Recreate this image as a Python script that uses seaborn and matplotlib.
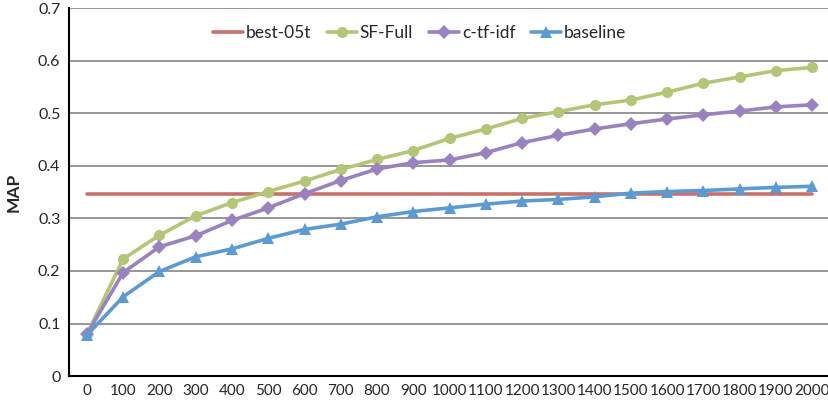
import matplotlib
matplotlib.use("Agg")
import matplotlib.pyplot as plt
import seaborn as sns
import pandas as pd

# values
steps = [0, 100, 200, 300, 400, 500, 600, 700, 800, 900, 1000,
         1100, 1200, 1300, 1400, 1500, 1600, 1700, 1800, 1900, 2000]
best_05t = [0.347] * len(steps)
sf_full = [0.080, 0.223, 0.268, 0.305, 0.330, 0.351, 0.371, 0.393, 0.412, 0.429, 0.452,
           0.470, 0.490, 0.503, 0.516, 0.525, 0.540, 0.557, 0.569, 0.581, 0.587]
c_tf_idf = [0.080, 0.197, 0.246, 0.267, 0.296, 0.320, 0.347, 0.372, 0.394, 0.406, 0.411,
            0.425, 0.444, 0.458, 0.470, 0.480, 0.489, 0.497, 0.504, 0.512, 0.516]
baseline = [0.078, 0.151, 0.199, 0.227, 0.242, 0.262, 0.279, 0.289, 0.303, 0.313, 0.320,
            0.327, 0.333, 0.336, 0.341, 0.348, 0.351, 0.353, 0.356, 0.359, 0.361]

series = [
    ("best-05t", best_05t, "#C9706A", ""),
    ("SF-Full", sf_full, "#B3C676", "o"),
    ("c-tf-idf", c_tf_idf, "#9A82C0", "D"),
    ("baseline", baseline, "#5A9BD3", "^"),
]

sns.set_style("white")
plt.rcParams['font.family'] = ['Lato', 'DejaVu Sans']

fig = plt.figure(figsize=(8.29, 4.01), dpi=100)
ax = fig.add_axes([0.083, 0.062, 0.916, 0.918])

for name, vals, color, marker in series:
    df = pd.DataFrame({"step": steps, "MAP": vals})
    sns.lineplot(data=df, x="step", y="MAP", ax=ax, color=color, linewidth=2.6,
                 marker=marker if marker else None,
                 markersize=8 if marker != "D" else 7,
                 markeredgewidth=0, label=name)

ax.set_xlim(-50, 2044)
ax.set_ylim(0, 0.7)
ax.set_xticks(steps)
ax.set_xticklabels([str(s) for s in steps], fontsize=11)
ax.set_yticks([0, 0.1, 0.2, 0.3, 0.4, 0.5, 0.6, 0.7])
ax.set_yticklabels(["0", "0.1", "0.2", "0.3", "0.4", "0.5", "0.6", "0.7"], fontsize=11.5)
ax.tick_params(axis="both", length=0, pad=6)
ax.yaxis.grid(True, color="#7a7a7a", linewidth=1.1)
ax.set_axisbelow(True)
ax.set_xlabel("")
ax.set_ylabel("MAP", fontsize=12.5, fontweight="bold", labelpad=12)

for side in ["top", "right"]:
    ax.spines[side].set_visible(False)
for side in ["left", "bottom"]:
    ax.spines[side].set_color("black")
    ax.spines[side].set_linewidth(1.5)

ax.legend(loc="upper center", bbox_to_anchor=(0.462, 0.995), ncol=4, frameon=False,
          fontsize=12.5, handlelength=1.75, handletextpad=0.15, columnspacing=0.9)

plt.savefig("out.png", dpi=100)
